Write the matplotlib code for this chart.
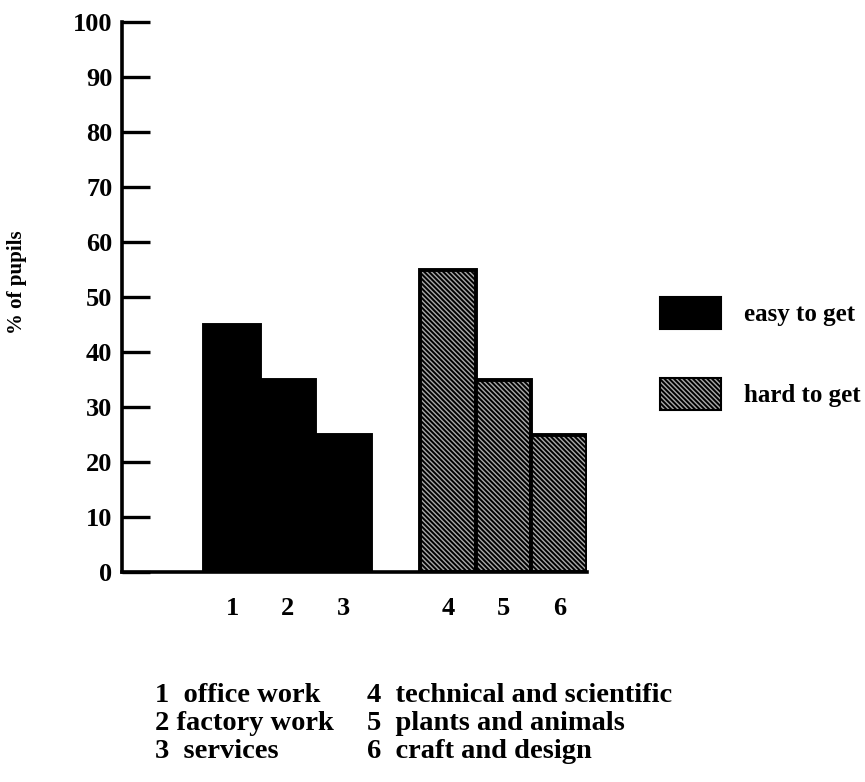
import numpy as np
import matplotlib
matplotlib.use('Agg')
import matplotlib.pyplot as plt
from matplotlib.patches import Patch

# data
categories = ['office work', 'factory work', 'services',
              'technical and scientific', 'plants and animals', 'craft and design']
tick_labels = ['1', '2', '3', '4', '5', '6']
groups = ['easy to get', 'easy to get', 'easy to get',
          'hard to get', 'hard to get', 'hard to get']
pct_pupils = [45, 35, 25, 55, 35, 25]
y_ticks = [0, 10, 20, 30, 40, 50, 60, 70, 80, 90, 100]

plt.rcParams['font.family'] = ['Liberation Serif', 'DejaVu Serif']
plt.rcParams['font.weight'] = 'bold'
plt.rcParams['hatch.linewidth'] = 1.4

W, H = 865, 782
fig = plt.figure(figsize=(W / 100, H / 100), dpi=100)
ax = fig.add_axes([122 / W, 1 - 572 / H, (587 - 122) / W, (572 - 22) / H])

# category positions: unit spacing, a gap between the two groups
gap = 0.89
pos = np.array([i + (gap if groups[i] == 'hard to get' else 0.0) for i in range(len(categories))])

styles = {
    'easy to get': dict(facecolor='black', edgecolor='black', hatch=None),
    'hard to get': dict(facecolor='#a8a8a8', edgecolor='black', hatch='\\' * 7),
}

for x, v, g in zip(pos, pct_pupils, groups):
    ax.bar(x, v, width=1.0, linewidth=2.8, **styles[g])

ax.set_xlim(pos[0] - 1.98, pos[-1] + 0.5)
ax.set_ylim(0, 100)
ax.set_yticks(y_ticks)
ax.set_xticks(pos)
ax.set_xticklabels(tick_labels)

for s in ['top', 'right']:
    ax.spines[s].set_visible(False)
for s in ['left', 'bottom']:
    ax.spines[s].set_linewidth(2.6)

ax.tick_params(axis='y', direction='in', length=20, width=2.4, pad=7, labelsize=19)
ax.tick_params(axis='x', length=0, pad=18, labelsize=19)

ax.set_ylabel('% of pupils', fontsize=15, fontweight='bold')
ax.yaxis.set_label_coords(-0.204, 0.527)

# legend on the right
handles = [Patch(label=g, linewidth=1.5, **styles[g]) for g in ['easy to get', 'hard to get']]
fig.legend(handles=handles, loc='upper left', bbox_to_anchor=(660 / W, 1 - 297 / H),
           frameon=False, fontsize=18, handlelength=2.45, handleheight=1.6,
           handletextpad=0.9, labelspacing=1.95, borderpad=0, borderaxespad=0)

# key of the categories under the chart
row_y = [695, 723, 752]
col_x = [155, 367]
for i, (lab, name) in enumerate(zip(tick_labels, categories)):
    col, row = divmod(i, 3)
    sep = ' ' if name == 'factory work' else '  '
    fig.text(col_x[col] / W, 1 - row_y[row] / H, lab + sep + name,
             fontsize=20.5, fontweight='bold', ha='left', va='center')

fig.savefig('out.png', dpi=100)
